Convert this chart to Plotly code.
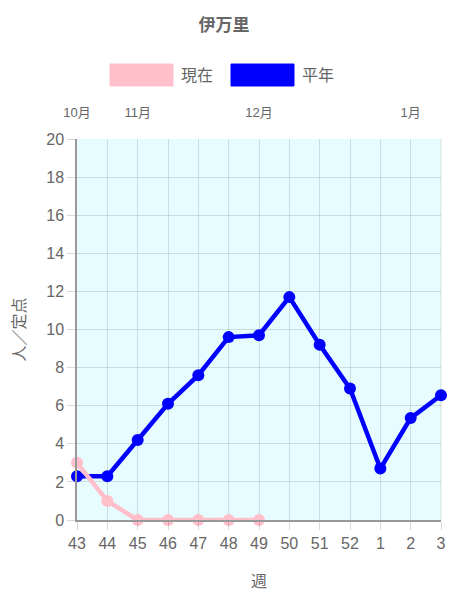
import plotly.graph_objects as go

weeks = ["43", "44", "45", "46", "47", "48", "49", "50", "51", "52", "1", "2", "3"]
current = [3, 1, 0, 0, 0, 0, 0]
normal = [2.3, 2.3, 4.2, 6.1, 7.6, 9.6, 9.7, 11.7, 9.2, 6.9, 2.7, 5.35, 6.55]
month_weeks = ["43", "45", "49", "2"]
month_labels = ["10月", "11月", "12月", "1月"]
title = "伊万里"
legend_names = ["現在", "平年"]
y_title = "人／定点"
x_title = "週"

PINK = "#ffc0cb"
BLUE = "#0000ff"
FONT = "Liberation Sans, Noto Sans CJK JP, sans-serif"
GRID = "rgba(0,0,0,0.12)"

fig = go.Figure()
fig.add_trace(go.Scatter(
    x=weeks, y=normal, name=legend_names[1], mode="lines+markers",
    line=dict(color=BLUE, width=4.5), marker=dict(color=BLUE, size=12),
    cliponaxis=False, showlegend=False))
fig.add_trace(go.Scatter(
    x=weeks[:len(current)], y=current, name=legend_names[0], mode="lines+markers",
    line=dict(color=PINK, width=4.5), marker=dict(color=PINK, size=12),
    cliponaxis=False, showlegend=False))
# invisible trace to activate top axis
fig.add_trace(go.Scatter(x=weeks, y=normal, xaxis="x2", mode="lines",
                         line=dict(color="rgba(0,0,0,0)"), hoverinfo="skip",
                         showlegend=False))

L, R, T, B = 77, 441, 139, 520
PW, PH = R - L, B - T

# legend drawn as swatches
swatches = [(110, 173, PINK), (231, 294, BLUE)]
W, H = 450, 600
for i, (x0, x1, c) in enumerate(swatches):
    fig.add_shape(type="rect", xref="paper", yref="paper",
                  x0=(x0 - L) / PW, x1=(x1 - L) / PW,
                  y0=(B - 86) / PH, y1=(B - 64) / PH,
                  fillcolor=c, line=dict(color=c, width=1), layer="above")
    fig.add_annotation(xref="paper", yref="paper", x=(x1 + 6 - L) / PW,
                       y=(B - 75) / PH, text=legend_names[i], showarrow=False,
                       xanchor="left", yanchor="middle",
                       font=dict(size=16, color="#666666", family=FONT))

fig.update_layout(
    width=W, height=H,
    margin=dict(l=L, r=W - R, t=T, b=H - B),
    paper_bgcolor="white", plot_bgcolor="#e6fcff",
    font=dict(family=FONT, color="#666666"),
    title=dict(text="<b>" + title + "</b>", x=(224 - L) / PW, xref="paper",
               xanchor="center", y=1 - 25 / 600, yanchor="middle",
               font=dict(size=17, color="#666666", family=FONT)),
    xaxis=dict(type="category", categoryorder="array", categoryarray=weeks,
               range=[0, 12], showgrid=True, gridcolor=GRID, gridwidth=1,
               showline=True, linecolor="#999999", linewidth=1.5,
               ticks="outside", ticklen=8, tickcolor="rgba(0,0,0,0.15)",
               tickfont=dict(size=16, color="#666666"), automargin=False,
               title=dict(text=x_title, font=dict(size=16, color="#666666"), standoff=25),
               zeroline=False),
    xaxis2=dict(type="category", categoryorder="array", categoryarray=weeks,
                range=[0, 12], overlaying="x", side="top", showgrid=False,
                tickmode="array", tickvals=month_weeks, ticktext=month_labels,
                ticks="outside", ticklen=16, tickcolor="rgba(0,0,0,0)",
                tickfont=dict(size=13, color="#666666"), showline=False,
                automargin=False),
    yaxis=dict(range=[0, 20], dtick=2, showgrid=True, gridcolor=GRID, gridwidth=1,
               showline=True, linecolor="#999999", linewidth=1.5,
               ticks="outside", ticklen=8, tickcolor="rgba(0,0,0,0.15)",
               tickfont=dict(size=16, color="#666666"), zeroline=False,
               automargin=False,
               title=dict(text=y_title, font=dict(size=16, color="#666666"), standoff=17)),
)
fig.add_shape(type="line", xref="paper", yref="paper", x0=1, x1=1, y0=0, y1=1,
              line=dict(color=GRID, width=1))

fig.write_html("out.html", post_script="document.body.style.margin='0';",
               config={"displayModeBar": False})
